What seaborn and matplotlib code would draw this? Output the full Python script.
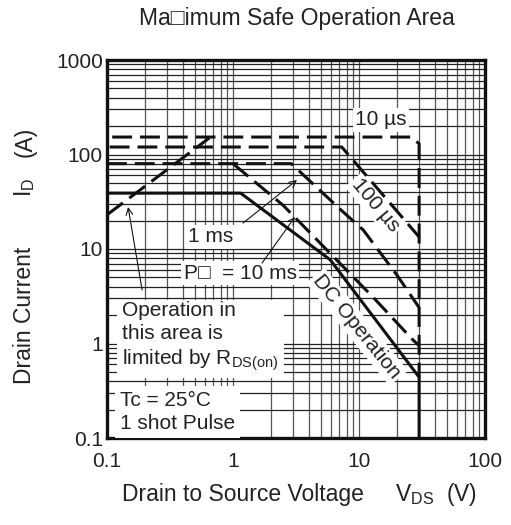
import numpy as np
import pandas as pd
import seaborn as sns
import matplotlib
matplotlib.use("Agg")
import matplotlib.pyplot as plt
from matplotlib.ticker import LogLocator, FixedLocator, FixedFormatter, NullFormatter

# ---- data ----
rds_v = [0.1, 0.65]
rds_i = [23, 150]
us10_v = [0.11, 26, 30, 30]
us10_i = [153, 153, 130, 0.44]
us100_v = [0.105, 7.3, 30]
us100_i = [120, 120, 13.4]
ms1_v = [0.1, 2.9, 7.5, 10.8, 20, 30]
ms1_i = [80, 80, 24.6, 15.9, 5.3, 2.4]
ms10_v = [1.0, 2.5, 12.9, 26.8, 30]
ms10_i = [80, 29, 3.1, 1.09, 0.95]
dc_v = [0.1, 1.15, 5.9, 30, 30]
dc_i = [39, 39, 7.7, 0.44, 0.1]

x_ticks = [0.1, 1, 10, 100]
x_labels = ["0.1", "1", "10", "100"]
y_ticks = [0.1, 1, 10, 100, 1000]
y_labels = ["0.1", "1", "10", "100", "1000"]

sns.set_theme(style="white")
plt.rcParams["font.family"] = ["Liberation Sans", "DejaVu Sans"]
plt.rcParams["mathtext.fontset"] = "custom"
plt.rcParams["mathtext.rm"] = "Liberation Sans"
plt.rcParams["mathtext.it"] = "Liberation Sans"

fig = plt.figure(figsize=(5.11, 5.25), dpi=100)
ax = fig.add_axes([107 / 511, 1 - 438 / 525, 378 / 511, 378 / 525])
ax.set_xscale("log")
ax.set_yscale("log")
ax.set_xlim(0.1, 100)
ax.set_ylim(0.1, 1000)

# grid
ax.xaxis.set_major_locator(FixedLocator(x_ticks))
ax.xaxis.set_major_formatter(FixedFormatter(x_labels))
ax.yaxis.set_major_locator(FixedLocator(y_ticks))
ax.yaxis.set_major_formatter(FixedFormatter(y_labels))
ax.xaxis.set_minor_locator(LogLocator(base=10, subs=np.arange(2, 10)))
ax.yaxis.set_minor_locator(LogLocator(base=10, subs=np.arange(2, 10)))
ax.xaxis.set_minor_formatter(NullFormatter())
ax.yaxis.set_minor_formatter(NullFormatter())
ax.grid(which="both", axis="x", color="#555555", lw=0.9)
ax.grid(which="both", axis="y", color="#222222", lw=0.9)
ax.set_axisbelow(True)
ax.tick_params(which="both", length=0, labelsize=15, colors="#222222")
ax.tick_params(axis="x", pad=10)
ax.tick_params(axis="y", pad=3)
for s in ax.spines.values():
    s.set_linewidth(2.4)
    s.set_color("#111111")

dash = (0, (6.5, 2.6))
curves = [
    (rds_v, rds_i, dash),
    (us10_v, us10_i, dash),
    (us100_v, us100_i, dash),
    (ms1_v, ms1_i, dash),
    (ms10_v, ms10_i, dash),
    (dc_v, dc_i, "-"),
]
for v, i, ls in curves:
    df = pd.DataFrame({"V": v, "I": i})
    sns.lineplot(data=df, x="V", y="I", ax=ax, sort=False, estimator=None,
                 color="#111111", lw=2.2, linestyle=ls, zorder=4)

ax.set_xlabel("")
ax.set_ylabel("")

box = dict(boxstyle="square,pad=0.12", fc="white", ec="none")
tkw = dict(fontsize=15, color="#222222", zorder=3)
ax.text(15, 232, "10 \u00b5s", ha="center", va="center", bbox=box, **tkw)
ax.text(13.6, 29.2, "100 \u00b5s", ha="center", va="center", rotation=-50,
        rotation_mode="anchor", bbox=box, **tkw)
ax.text(0.668, 13.4, "1 ms", ha="center", va="center", bbox=box, **tkw)
ax.text(1.137, 5.57, "P\u25a1  = 10 ms", ha="center", va="center", bbox=box, **tkw)
ax.text(9.64, 1.5, "DC Operation", ha="center", va="center", rotation=-51,
        rotation_mode="anchor", bbox=box, **tkw)
ax.text(0.1315, 1.17, "Operation in\nthis area is\nlimited by R$_{\\mathrm{DS(on)}}$",
        ha="left", va="center", linespacing=1.25,
        bbox=dict(boxstyle="square,pad=0.25", fc="white", ec="none"), **tkw)
ax.text(0.127, 0.188, "Tc = 25\u00b0C\n1 shot Pulse", ha="left", va="center",
        linespacing=1.25, bbox=dict(boxstyle="square,pad=0.25", fc="white", ec="none"), **tkw)

akw = dict(arrowstyle="->", lw=0.8, color="#111111", shrinkA=0, shrinkB=0)
ax.annotate("", xy=(0.147, 27.8), xytext=(0.19, 3.68), arrowprops=akw, zorder=5)
ax.annotate("", xy=(3.22, 53.7), xytext=(1.2, 18.8), arrowprops=akw, zorder=5)
ax.annotate("", xy=(3.1, 21.8), xytext=(1.7, 7.1), arrowprops=akw, zorder=5)

lkw = dict(fontsize=16.5, color="#222222")
fig.text(297 / 511, 1 - 18 / 525, "Ma\u25a1imum Safe Operation Area", ha="center",
         va="center", **lkw)
fig.text(122 / 511, 1 - 495 / 525, "Drain to Source Voltage", ha="left",
         va="center", **lkw)
fig.text(395 / 511, 1 - 495 / 525, "V$_{\\mathrm{DS}}$  (V)", ha="left",
         va="center", **lkw)
fig.text(25 / 511, 1 - 315 / 525, "Drain Current", ha="center", va="center",
         rotation=90, **lkw)
fig.text(25 / 511, 1 - 187 / 525, "I$_{\\mathrm{D}}$", ha="center", va="center",
         rotation=90, **lkw)
fig.text(25 / 511, 1 - 142 / 525, "(A)", ha="center", va="center",
         rotation=90, **lkw)

fig.savefig("out.png", dpi=100)
